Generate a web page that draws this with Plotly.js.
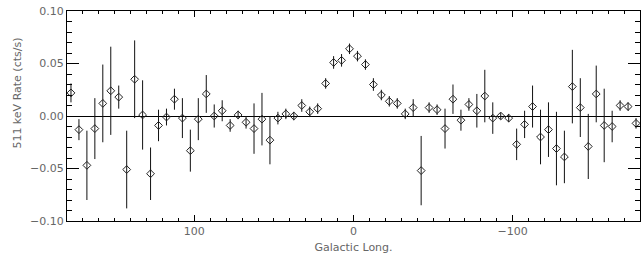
<!DOCTYPE html>
<html>
<head>
<meta charset="utf-8">
<script src="https://cdn.plot.ly/plotly-3.0.1.min.js"></script>
<style>html,body{margin:0;padding:0;background:#fff;}#chart{width:641px;height:255px;}</style>
</head>
<body>
<div id="chart"></div>
<script>
// Galactic longitude bin centres (deg), 5-degree bins from 177.5 down to -177.5
const longitudes = [177.5,172.5,167.5,162.5,157.5,152.5,147.5,142.5,137.5,132.5,127.5,122.5,117.5,112.5,107.5,102.5,97.5,92.5,
  87.5,82.5,77.5,72.5,67.5,62.5,57.5,52.5,47.5,42.5,37.5,32.5,27.5,22.5,17.5,12.5,7.5,2.5,
  -2.5,-7.5,-12.5,-17.5,-22.5,-27.5,-32.5,-37.5,-42.5,-47.5,-52.5,-57.5,-62.5,-67.5,-72.5,-77.5,-82.5,-87.5,
  -92.5,-97.5,-102.5,-107.5,-112.5,-117.5,-122.5,-127.5,-132.5,-137.5,-142.5,-147.5,-152.5,-157.5,-162.5,-167.5,-172.5,-177.5];
// 511 keV rate (cts/s)
const rates = [0.022,-0.013,-0.047,-0.012,0.012,0.024,0.018,-0.051,0.035,0.001,-0.055,-0.009,-0.001,0.016,-0.002,-0.033,-0.003,0.021,
  0.000,0.005,-0.009,0.001,-0.006,-0.012,-0.003,-0.023,-0.002,0.002,0.000,0.010,0.004,0.007,0.031,0.051,0.053,0.064,
  0.057,0.049,0.030,0.020,0.014,0.012,0.002,0.008,-0.052,0.008,0.006,-0.012,0.016,-0.004,0.011,0.005,0.019,-0.002,
  0.000,-0.002,-0.027,-0.008,0.009,-0.020,-0.013,-0.031,-0.039,0.028,0.008,-0.029,0.021,-0.009,-0.010,0.010,0.009,-0.007];
// 1-sigma errors (cts/s)
const errors = [0.009,0.010,0.033,0.029,0.037,0.042,0.011,0.037,0.037,0.033,0.025,0.015,0.008,0.010,0.019,0.020,0.020,0.018,
  0.011,0.010,0.006,0.004,0.006,0.024,0.025,0.023,0.006,0.005,0.004,0.006,0.005,0.005,0.005,0.006,0.006,0.005,
  0.005,0.005,0.006,0.005,0.005,0.005,0.005,0.008,0.033,0.005,0.005,0.019,0.014,0.010,0.006,0.016,0.025,0.015,
  0.003,0.004,0.015,0.013,0.020,0.026,0.026,0.035,0.025,0.035,0.028,0.031,0.027,0.035,0.015,0.005,0.004,0.005];
const xTickVals = [100, 0, -100];
const xTickText = ['100', '0', '\u2212100'];
const yTickVals = [0.10, 0.05, 0.00, -0.05, -0.10];
const yTickText = ['0.10', '0.05', '0.00', '\u22120.05', '\u22120.10'];

const trace = {
  x: longitudes, y: rates, type: 'scatter', mode: 'markers',
  marker: {symbol: 'diamond-open', size: 6, color: '#222', line: {width: 1, color: '#222'}},
  error_y: {type: 'data', array: errors, visible: true, width: 0, thickness: 1, color: '#111'},
  hoverinfo: 'skip', showlegend: false
};
const tickFont = {family: 'DejaVu Sans', size: 11, color: '#666'};
const layout = {
  width: 641, height: 255,
  margin: {l: 67, r: 1, t: 11, b: 34, pad: 0},
  paper_bgcolor: '#fff', plot_bgcolor: '#fff',
  font: tickFont,
  xaxis: {
    range: [180, -180], showgrid: false, zeroline: false,
    showline: true, linecolor: '#000', linewidth: 1, mirror: 'allticks',
    ticks: 'inside', ticklen: 6, tickwidth: 1, tickcolor: '#000',
    tickmode: 'array', tickvals: xTickVals, ticktext: xTickText, tickfont: tickFont,
    minor: {ticks: 'inside', dtick: 10, tick0: 0, ticklen: 3, tickcolor: '#000', tickwidth: 1, showgrid: false},
    title: {text: 'Galactic Long.', font: tickFont, standoff: 6}
  },
  yaxis: {
    range: [-0.10, 0.10], showgrid: false,
    zeroline: true, zerolinecolor: '#000', zerolinewidth: 1,
    showline: true, linecolor: '#000', linewidth: 1, mirror: 'allticks',
    ticks: 'inside', ticklen: 12, tickwidth: 1, tickcolor: '#000',
    tickmode: 'array', tickvals: yTickVals, ticktext: yTickText, tickfont: tickFont,
    minor: {ticks: 'inside', dtick: 0.01, tick0: 0, ticklen: 5, tickcolor: '#000', tickwidth: 1, showgrid: false},
    title: {text: ''}
  },
  annotations: [{
    text: '511 keV Rate (cts/s)', xref: 'paper', yref: 'paper', x: -0.086, y: 0.61,
    xanchor: 'center', yanchor: 'middle', textangle: -90, showarrow: false, font: tickFont
  }]
};
Plotly.newPlot('chart', [trace], layout, {staticPlot: true, displayModeBar: false});
</script>
</body>
</html>
